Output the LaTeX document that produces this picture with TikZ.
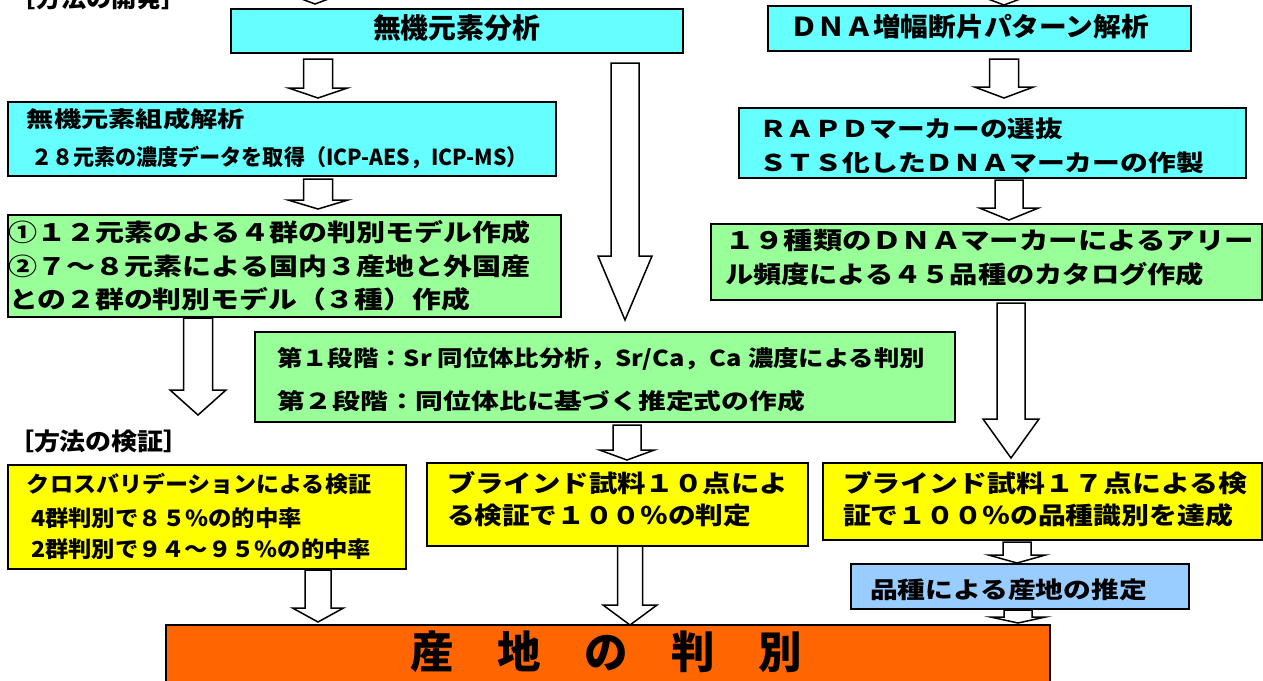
\documentclass[tikz,border=0pt]{standalone}
\usepackage{fontspec}
\usepackage{graphicx}
\newfontfamily\jp{Noto Sans CJK JP}
\usetikzlibrary{calc,fit}
\definecolor{cyanbox}{HTML}{66FFFF}
\definecolor{greenbox}{HTML}{99FF99}
\definecolor{yellowbox}{HTML}{FFFF00}
\definecolor{bluebox}{HTML}{99CCFF}
\definecolor{orangebox}{HTML}{FF6600}
\newcommand\fitx[2]{\resizebox{#1pt}{\height}{#2}}
\newcommand\fs[1]{\fontsize{#1}{#1}\selectfont\jp\bfseries}
\tikzset{
  box/.style={draw=black, line width=1.6pt, inner sep=0pt, outer sep=0pt},
  txt/.style={inner sep=0pt, outer sep=0pt, anchor=base west},
  blockarrow/.style={draw=black, fill=white, line width=1.5pt, line join=miter},
}
% #1 shaft top, #2 tip, #3 shaft half width, #4 head half width, #5 head length
\newcommand\barrow[5]{%
  \draw[blockarrow] let \p1=(#1), \p2=(#2) in
    (\x2-#3pt,\y1) -- (\x2+#3pt,\y1) -- (\x2+#3pt,\y2+#5pt) -- (\x2+#4pt,\y2+#5pt)
    -- (\x2,\y2) -- (\x2-#4pt,\y2+#5pt) -- (\x2-#3pt,\y2+#5pt) -- cycle;}
\begin{document}
\begin{tikzpicture}[x=1pt,y=-1pt]
\useasboundingbox (0,0) rectangle (1263,680);
\clip (0,0) rectangle (1263,680);
\fill[white] (0,0) rectangle (1263,680);

% boxes
\node[box, fill=cyanbox, fit={(231,9) (683,53)}] (A) {};
\node[box, fill=cyanbox, fit={(768,6) (1191,51)}] (B) {};
\node[box, fill=cyanbox, fit={(8,102) (556,176)}] (C) {};
\node[box, fill=cyanbox, fit={(739,108) (1246,178)}] (D) {};
\node[box, fill=greenbox, fit={(8,215) (561,317)}] (E) {};
\node[box, fill=greenbox, fit={(711,224) (1262,300)}] (F) {};
\node[box, fill=greenbox, fit={(255,332) (955,422)}] (G) {};
\node[box, fill=yellowbox, fit={(8,465) (406,569)}] (I) {};
\node[box, fill=yellowbox, fit={(427,463) (808,546)}] (J) {};
\node[box, fill=yellowbox, fit={(823,463) (1262,540)}] (K) {};
\node[box, fill=bluebox, fit={(851,564) (1189,609)}] (L) {};
\node[box, fill=orangebox, fit={(166,625) (1050,700)}] (M) {};

% free coordinates
\coordinate (topAsrc) at (315,-40);
\coordinate (topBsrc) at (1004,-40);
\coordinate (vtip) at (198,415);

% block arrows
\barrow{topAsrc}{$(A.north west)+(84,-5)$}{14.5}{29.5}{11}
\barrow{topBsrc}{$(B.north west)+(236,-1)$}{14.5}{29.5}{11}
\barrow{$(A.south west)+(87,6)$}{$(C.north west)+(310,-4)$}{14.5}{29.5}{10}
\barrow{$(A.south west)+(394,10)$}{$(G.north west)+(370,-12)$}{14}{27}{64}
\barrow{$(B.south west)+(236,8)$}{$(D.north west)+(265,-10)$}{14.5}{29.5}{11}
\barrow{$(C.south west)+(310,3)$}{$(E.north west)+(310,-6)$}{14.5}{30}{9}
\barrow{$(D.south west)+(270,2)$}{$(F.north west)+(298,-4)$}{14}{29.5}{12}
\barrow{$(E.south west)+(190,1)$}{vtip}{14.5}{28}{25}
\barrow{$(F.south west)+(300,3)$}{$(K.north west)+(188,-5)$}{14}{28}{39}
\barrow{$(G.south west)+(372,3)$}{$(J.north west)+(200,-3)$}{14}{27.5}{10}
\barrow{$(I.south west)+(310,1)$}{$(M.north west)+(152,-3)$}{13}{25.5}{14}
\barrow{$(J.south west)+(203,0)$}{$(M.north west)+(464,0)$}{12.5}{27}{20}
\barrow{$(K.south west)+(194,2)$}{$(L.north west)+(166,-1)$}{14}{28.5}{8}
\barrow{$(L.south west)+(167,1)$}{$(M.north west)+(852,-2)$}{14}{27.5}{6}

% texts
\node[txt, font=\fs{24}] (t0) at (11,8) {\fitx{176}{［方法の開発］}};
\node[txt, font=\fs{28}] (tA) at (373,38) {\fitx{167}{無機元素分析}};
\node[txt, font=\fs{26}] (tB) at (790,36) {\fitx{359}{ＤＮＡ増幅断片パターン解析}};
\node[txt, font=\fs{22}] (tC1) at (27,127) {\fitx{218}{無機元素組成解析}};
\node[txt, font=\fs{22}] (tC2) at (31,165) {\fitx{497}{２８元素の濃度データを取得（ICP-AES，ICP-MS）}};
\node[txt, font=\fs{23}] (tD1) at (759,137) {\fitx{304}{ＲＡＰＤマーカーの選抜}};
\node[txt, font=\fs{23}] (tD2) at (759,171) {\fitx{445}{ＳＴＳ化したＤＮＡマーカーの作製}};
\node[txt, font=\fs{24}] (tE1) at (9,241) {\fitx{521}{①１２元素のよる４群の判別モデル作成}};
\node[txt, font=\fs{24}] (tE2) at (9,275) {\fitx{521}{②７～８元素による国内３産地と外国産}};
\node[txt, font=\fs{24}] (tE3) at (9,308) {\fitx{461}{との２群の判別モデル（３種）作成}};
\node[txt, font=\fs{24}] (tF1) at (725,249) {\fitx{529}{１９種類のＤＮＡマーカーによるアリー}};
\node[txt, font=\fs{24}] (tF2) at (725,283) {\fitx{479}{ル頻度による４５品種のカタログ作成}};
\node[txt, font=\fs{22}] (tG1) at (277,366) {\fitx{648}{第１段階：Sr 同位体比分析，Sr/Ca，Ca 濃度による判別}};
\node[txt, font=\fs{22}] (tG2) at (277,409) {\fitx{528}{第２段階：同位体比に基づく推定式の作成}};
\node[txt, font=\fs{24}] (tH) at (8,450) {\fitx{182}{［方法の検証］}};
\node[txt, font=\fs{22}] (tI1) at (27,492) {\fitx{344}{クロスバリデーションによる検証}};
\node[txt, font=\fs{22}] (tI2) at (31,526) {\fitx{271}{4群判別で８５\%の的中率}};
\node[txt, font=\fs{22}] (tI3) at (31,557) {\fitx{340}{2群判別で９４～９５\%の的中率}};
\node[txt, font=\fs{24}] (tJ1) at (447,492) {\fitx{341}{ブラインド試料１０点によ}};
\node[txt, font=\fs{24}] (tJ2) at (447,524) {\fitx{304}{る検証で１００％の判定}};
\node[txt, font=\fs{24}] (tK1) at (843,492) {\fitx{404}{ブラインド試料１７点による検}};
\node[txt, font=\fs{24}] (tK2) at (843,524) {\fitx{390}{証で１００％の品種識別を達成}};
\node[txt, font=\fs{23}] (tL) at (870,598) {\fitx{277}{品種による産地の推定}};
\node[txt, font=\fs{44}] (tM) at (410,668) {\fitx{392}{産　地　の　判　別}};
\end{tikzpicture}
\end{document}
